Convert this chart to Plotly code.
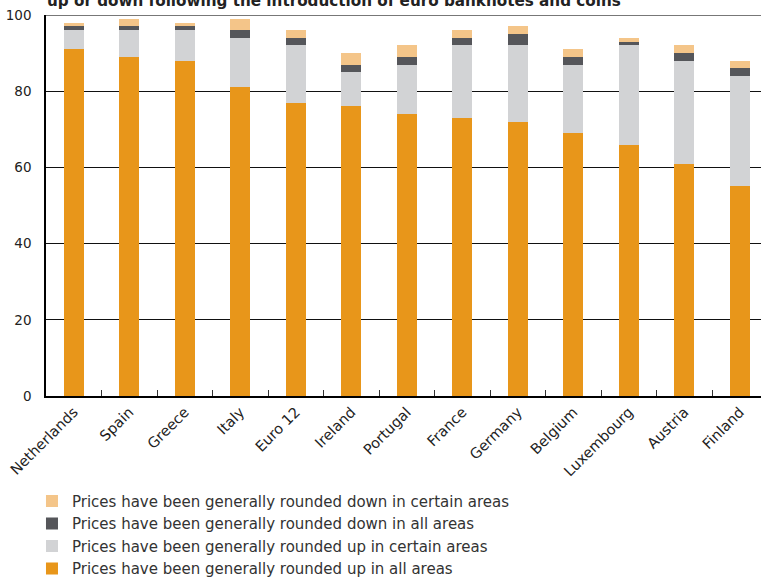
import plotly.graph_objects as go

# Survey shares (%) by country
countries = ["Netherlands", "Spain", "Greece", "Italy", "Euro 12", "Ireland", "Portugal",
             "France", "Germany", "Belgium", "Luxembourg", "Austria", "Finland"]
up_all = [91, 89, 88, 81, 77, 76, 74, 73, 72, 69, 66, 61, 55]
up_certain = [5, 7, 8, 13, 15, 9, 13, 19, 20, 18, 26, 27, 29]
down_all = [1, 1, 1, 2, 2, 2, 2, 2, 3, 2, 1, 2, 2]
down_certain = [1, 2, 1, 3, 2, 3, 3, 2, 2, 2, 1, 2, 2]

series = [
    ("Prices have been generally rounded up in all areas", up_all, "#E8961A"),
    ("Prices have been generally rounded up in certain areas", up_certain, "#D2D3D5"),
    ("Prices have been generally rounded down in all areas", down_all, "#55565A"),
    ("Prices have been generally rounded down in certain areas", down_certain, "#F4C589"),
]

y_ticks = [0, 20, 40, 60, 80, 100]

fig = go.Figure()
for name, vals, color in series:
    fig.add_trace(go.Bar(x=countries, y=vals, name=name, marker_color=color,
                         marker_line_width=0, width=0.36))

FONT = "DejaVu Sans"
fig.update_layout(
    width=761, height=580,
    margin=dict(l=46, r=0, t=15, b=184, autoexpand=False),
    barmode="stack",
    plot_bgcolor="white", paper_bgcolor="white",
    font=dict(family=FONT, color="#222222"),
    showlegend=True,
    legend=dict(
        traceorder="reversed",
        x=-0.0196, xanchor="left", xref="paper",
        y=-0.233, yanchor="top",
        font=dict(size=15, color="#333333", family=FONT),
        bgcolor="rgba(0,0,0,0)",
        itemclick=False,
    ),
    xaxis=dict(
        range=[-0.5, 12.38],
        automargin=False,
        showline=True, linecolor="black", linewidth=2,
        ticks="inside", tickson="boundaries", ticklen=6, tickcolor="#333333", tickwidth=1,
        tickangle=-45, tickfont=dict(size=14.5, family=FONT, color="#222222"),
        showgrid=False,
    ),
    yaxis=dict(
        range=[0, 100],
        automargin=False,
        tickvals=y_ticks,
        showline=True, linecolor="black", linewidth=1.5,
        showgrid=True, gridcolor="#111111", gridwidth=1,
        zeroline=False,
        ticks="", ticklabelstandoff=10,
        tickfont=dict(size=13.5, family=FONT, color="#222222"),
    ),
    annotations=[dict(
        text="<b>up or down following the introduction of euro banknotes and coins</b>",
        xref="paper", yref="paper", x=0, y=1.011, xanchor="left", yanchor="bottom",
        borderpad=0,
        showarrow=False, font=dict(size=15.2, family=FONT, color="#222222"),
    )],
    shapes=[dict(type="line", xref="paper", yref="y", x0=0, x1=1, y0=100, y1=100,
                 line=dict(color="#777777", width=2), layer="above")],
)

fig.write_html("out.html")
